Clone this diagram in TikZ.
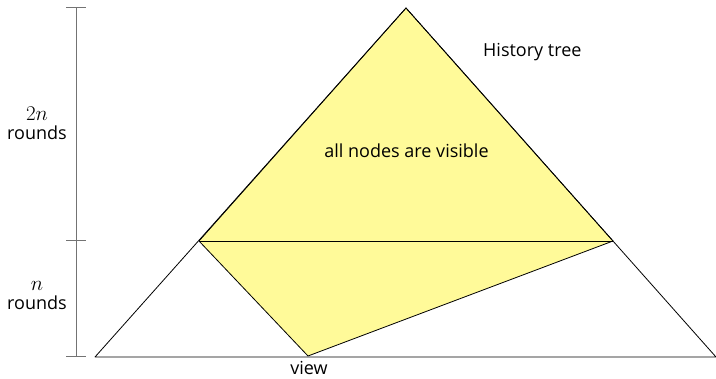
\documentclass[tikz,border=0pt]{standalone}
\usepackage{fix-cm}
\usepackage{fontspec}
\setmainfont{Open Sans}
\begin{document}
\begin{tikzpicture}[x=1pt,y=-1pt,
  edge/.style={draw=black,line width=0.8pt,line join=round},
  scale line/.style={draw=black!55,line width=1pt},
  lbl/.style={font=\fontsize{18}{20}\selectfont,inner sep=0pt,anchor=base},
  mlbl/.style={font=\fontsize{21}{24}\selectfont,inner sep=0pt,anchor=base},
  every node/.style={inner sep=0pt}]
\useasboundingbox (0,0) rectangle (716,379);
% corners of the history tree
\coordinate (top) at (406,8);
\coordinate (bl) at (95,357);
\coordinate (br) at (716,357);
\coordinate (cl) at (199,241);
\coordinate (cr) at (613,241);
\coordinate (v) at (308,356);
% visible region
\fill[fill=yellow!40] (top) -- (cl) -- (v) -- (cr) -- cycle;
\draw[edge] (top) -- (cl) -- (v) -- (cr) -- cycle;
\draw[edge] (top) -- (bl) -- (br) -- cycle;
\draw[edge] (cl) -- (cr);
% round scale
\coordinate (s0) at (76,8);
\coordinate (s1) at (76,241);
\coordinate (s2) at (76,357);
\draw[scale line] (s0) -- (s2);
\foreach \p in {s0,s1,s2}{\draw[scale line] ([xshift=-10pt]\p) -- ([xshift=10pt]\p);}
% labels
\node[mlbl] (m2n) at (37,121) {$2n$};
\node[lbl] (r2n) at (37,140) {rounds};
\node[mlbl] (mn) at (37,291) {$n$};
\node[lbl] (rn) at (37,310) {rounds};
\node[lbl,anchor=base west] (ht) at (483,57) {History tree};
\node[lbl] (vis) at (406.5,158) {all nodes are visible};
\node[lbl] (view) at (309,375) {view};
\end{tikzpicture}
\end{document}
